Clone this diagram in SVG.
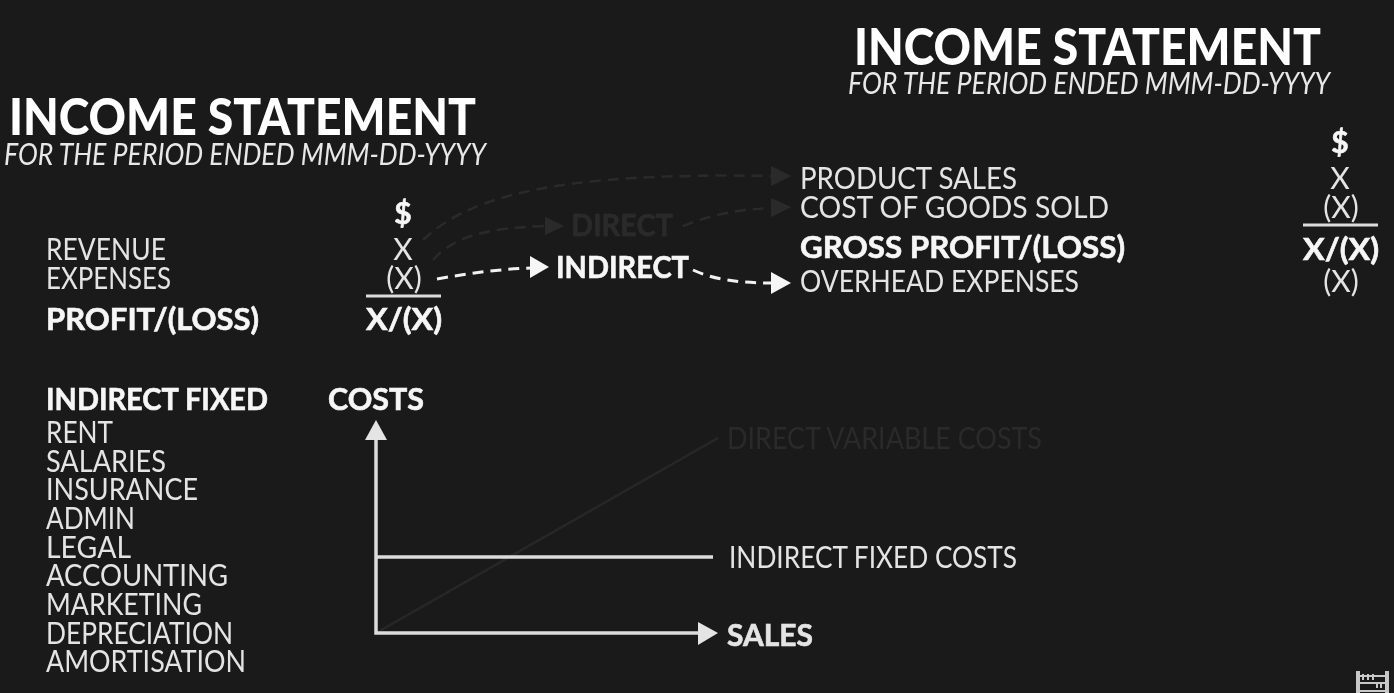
<svg xmlns="http://www.w3.org/2000/svg" width="1394" height="693" viewBox="0 0 1394 693">
<defs><filter id="soft" x="-5%" y="-5%" width="110%" height="110%"><feGaussianBlur stdDeviation="0.45"/></filter></defs>
<style>
g{filter:url(#soft)}
text{font-family:"Lato","Noto Sans",sans-serif;font-size:30px;fill:#e4e4e4;font-weight:400}
.b{font-weight:700;fill:#f6f6f6;stroke:#f6f6f6;stroke-width:.6}
.t{font-size:51px;font-weight:900;fill:#fff}
.s{font-size:30px;font-style:italic;fill:#e8e8e8}
.d{fill:#292929;stroke:none}
.dd{fill:#2b2b2b;stroke:#2b2b2b}
.m{text-anchor:middle}
.dash{fill:none;stroke:#f2f2f2;stroke-width:3;stroke-dasharray:11 7}
.dim{fill:none;stroke:#2a2a2a;stroke-width:2.5;stroke-dasharray:11 7}
.ax{fill:none;stroke:#dcdcdc;stroke-width:3.5}
</style>
<rect width="1394" height="693" fill="#1a1a1a"/>
<g id="connectors">
<path class="dim" d="M423 240C470 195 560 172 772 176"/>
<polygon fill="#2c2c2c" points="771,166 791,176 771,186"/>
<path class="dim" d="M433 260C455 235 490 228 545 226"/>
<polygon fill="#2c2c2c" points="545,217 564,226 545,235"/>
<path class="dim" d="M683 226C710 215 740 209 772 208"/>
<polygon fill="#2c2c2c" points="771,198 791,207 771,217"/>
<path class="dash" d="M437 279C470 273 500 269 532 268"/>
<polygon fill="#f6f6f6" points="530,256 549,267 530,278"/>
<path class="dash" d="M693 270C715 280 740 283 772 283"/>
<polygon fill="#f6f6f6" points="771,272 791,283 771,294"/>
<line x1="376" y1="633" x2="718" y2="438" stroke="#282828" stroke-width="2.5"/>
<path class="ax" d="M376 438V633H700"/>
<line class="ax" x1="376" y1="557" x2="713" y2="557"/>
<polygon fill="#e4e4e4" points="376,420 387,440 365,440"/>
<polygon fill="#e4e4e4" points="698,622 718,633 698,645"/>
<line x1="366" y1="296" x2="441" y2="296" stroke="#dcdcdc" stroke-width="3"/>
<line x1="1303" y1="225" x2="1378" y2="225" stroke="#dcdcdc" stroke-width="3"/>
</g>
<g id="left-title">
<text class="t" x="9" y="135" textLength="467" lengthAdjust="spacingAndGlyphs">INCOME STATEMENT</text>
<text class="s" x="4" y="165" textLength="482" lengthAdjust="spacingAndGlyphs">FOR THE PERIOD ENDED MMM-DD-YYYY</text>
</g>
<g id="right-title">
<text class="t" x="854" y="65" textLength="467" lengthAdjust="spacingAndGlyphs">INCOME STATEMENT</text>
<text class="s" x="848" y="94" textLength="482" lengthAdjust="spacingAndGlyphs">FOR THE PERIOD ENDED MMM-DD-YYYY</text>
</g>
<g id="left-statement">
<text x="46" y="260" textLength="120" lengthAdjust="spacingAndGlyphs">REVENUE</text>
<text x="46" y="289" textLength="125" lengthAdjust="spacingAndGlyphs">EXPENSES</text>
<text class="b" x="46" y="330" textLength="213" lengthAdjust="spacingAndGlyphs">PROFIT/(LOSS)</text>
<text class="b m" x="403" y="224">$</text>
<text class="m" x="403" y="260">X</text>
<text class="m" x="404" y="289">(X)</text>
<text class="b" x="366" y="330" textLength="76" lengthAdjust="spacingAndGlyphs">X/(X)</text>
</g>
<g id="direct"><text class="b dd" x="571" y="236" textLength="102" lengthAdjust="spacingAndGlyphs">DIRECT</text></g>
<g id="indirect"><text class="b" x="556" y="278" textLength="133" lengthAdjust="spacingAndGlyphs">INDIRECT</text></g>
<g id="right-statement">
<text x="800" y="189" textLength="217" lengthAdjust="spacingAndGlyphs">PRODUCT SALES</text>
<text x="800" y="218" textLength="309" lengthAdjust="spacingAndGlyphs">COST OF GOODS SOLD</text>
<text class="b" x="800" y="258" textLength="325" lengthAdjust="spacingAndGlyphs">GROSS PROFIT/(LOSS)</text>
<text x="800" y="292" textLength="279" lengthAdjust="spacingAndGlyphs">OVERHEAD EXPENSES</text>
<text class="b m" x="1340" y="153">$</text>
<text class="m" x="1340" y="189">X</text>
<text class="m" x="1341" y="218">(X)</text>
<text class="b" x="1303" y="260" textLength="76" lengthAdjust="spacingAndGlyphs">X/(X)</text>
<text class="m" x="1341" y="292">(X)</text>
</g>
<g id="cost-list">
<text class="b" x="46" y="410" textLength="222" lengthAdjust="spacingAndGlyphs">INDIRECT FIXED</text>
<text x="46" y="443" textLength="67" lengthAdjust="spacingAndGlyphs">RENT</text>
<text x="46" y="472" textLength="120" lengthAdjust="spacingAndGlyphs">SALARIES</text>
<text x="46" y="500" textLength="152" lengthAdjust="spacingAndGlyphs">INSURANCE</text>
<text x="46" y="529" textLength="89" lengthAdjust="spacingAndGlyphs">ADMIN</text>
<text x="46" y="558" textLength="85" lengthAdjust="spacingAndGlyphs">LEGAL</text>
<text x="46" y="586" textLength="182" lengthAdjust="spacingAndGlyphs">ACCOUNTING</text>
<text x="46" y="615" textLength="156" lengthAdjust="spacingAndGlyphs">MARKETING</text>
<text x="46" y="644" textLength="187" lengthAdjust="spacingAndGlyphs">DEPRECIATION</text>
<text x="46" y="672" textLength="200" lengthAdjust="spacingAndGlyphs">AMORTISATION</text>
</g>
<g id="chart-labels">
<text class="b" x="328" y="410" textLength="96" lengthAdjust="spacingAndGlyphs">COSTS</text>
<text class="d" x="727" y="449" textLength="315" lengthAdjust="spacingAndGlyphs">DIRECT VARIABLE COSTS</text>
<text x="729" y="568" textLength="288" lengthAdjust="spacingAndGlyphs">INDIRECT FIXED COSTS</text>
<text class="b" x="727" y="646" textLength="86" lengthAdjust="spacingAndGlyphs" style="fill:#e4e4e4;stroke:#e4e4e4">SALES</text>
</g>
<g id="abacus" fill="#c8c8c8">
<rect x="1356" y="671" width="4" height="22"/><rect x="1385" y="671" width="4" height="22"/>
<rect x="1356" y="675" width="33" height="2"/><rect x="1356" y="682" width="33" height="2"/><rect x="1356" y="690" width="33" height="2"/>
<rect x="1362" y="674" width="2" height="6"/><rect x="1367" y="674" width="2" height="6"/><rect x="1372" y="674" width="2" height="6"/><rect x="1376" y="682" width="2" height="6"/><rect x="1380" y="682" width="2" height="6"/>
</g>
</svg>
